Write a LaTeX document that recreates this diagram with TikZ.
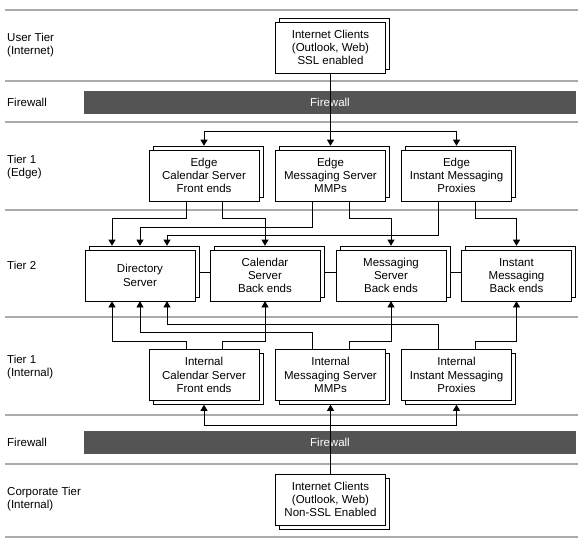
\documentclass[tikz,border=0pt]{standalone}
\usepackage{fontspec}
\setmainfont{Liberation Sans}
\usetikzlibrary{arrows.meta,shadows}
\begin{document}
\begin{tikzpicture}[x=1pt,y=-1pt, every node/.style={font=\fontsize{11.5}{13.3}\selectfont},
  srv/.style={draw,fill=white,line width=0.6pt,minimum width=110pt,minimum height=51pt,inner sep=1pt,align=center},
  upsrv/.style={srv,copy shadow={shadow xshift=4pt,shadow yshift=4pt}},
  dnsrv/.style={srv,copy shadow={shadow xshift=4pt,shadow yshift=-4pt}},
  wall/.style={fill=black!67,text=white,minimum width=492pt,minimum height=23pt,inner sep=0pt},
  tier/.style={anchor=west,align=left,inner sep=0pt},
  tiersep/.style={draw=black!33,line width=2.5pt},
  link/.style={line width=0.6pt},
  arr/.style={link,-{Triangle[width=7pt,length=6pt]}}]
\useasboundingbox (0,0) rectangle (584,544);
\foreach \y in {10,81,122,210,317,415,464,537} \draw[tiersep] (5,\y) -- (578,\y);
\node[tier] (tuser) at (7,45) {User Tier\\(Internet)};
\node[tier] (tfw1) at (7,102) {Firewall};
\node[tier] (tedge) at (7,167) {Tier 1\\(Edge)};
\node[tier] (ttwo) at (7,265) {Tier 2};
\node[tier] (tint) at (7,367) {Tier 1\\(Internal)};
\node[tier] (tfw2) at (7,442) {Firewall};
\node[tier] (tcorp) at (7,499) {Corporate Tier\\(Internal)};
\node[wall] (fw1) at (330,102) {Firewall};
\node[wall] (fw2) at (330,442) {Firewall};
\node[upsrv] (inet) at (330.5,47.5) {Internet Clients\\(Outlook, Web)\\SSL enabled};
\node[upsrv] (ecal) at (204,175.5) {Edge\\Calendar Server\\Front ends};
\node[upsrv] (emsg) at (330.5,175.5) {Edge\\Messaging Server\\MMPs};
\node[upsrv] (eim) at (456.5,175.5) {Edge\\Instant Messaging\\Proxies};
\node[upsrv] (dir) at (140,275.5) {Directory\\Server};
\node[upsrv] (cal) at (265,275.5) {Calendar\\Server\\Back ends};
\node[upsrv] (msg) at (391,275.5) {Messaging\\Server\\Back ends};
\node[upsrv] (im) at (516.5,275.5) {Instant\\Messaging\\Back ends};
\node[dnsrv] (ical) at (204,375) {Internal\\Calendar Server\\Front ends};
\node[dnsrv] (imsg) at (330.5,375) {Internal\\Messaging Server\\MMPs};
\node[dnsrv] (iim) at (456.5,375) {Internal\\Instant Messaging\\Proxies};
\node[dnsrv] (corp) at (330.5,499.5) {Internet Clients\\(Outlook, Web)\\Non-SSL Enabled};
\coordinate (tj) at (330.5,131);
\coordinate (bj) at (330.5,425);
\draw[link] (inet.south) -- (tj);
\draw[arr] (tj) -| ([yshift=4pt]ecal.north);
\draw[arr] (tj) -- ([yshift=4pt]emsg.north);
\draw[arr] (tj) -| ([yshift=4pt]eim.north);
\draw[link] ([xshift=4pt,yshift=3pt]dir.east) -- ([yshift=3pt]cal.west);
\draw[link] ([xshift=4pt,yshift=3pt]cal.east) -- ([yshift=3pt]msg.west);
\draw[link] ([xshift=4pt,yshift=3pt]msg.east) -- ([yshift=3pt]im.west);
\draw[arr] ([xshift=-18pt]ecal.south) -- ++(0,17) -| ([xshift=-28pt,yshift=4pt]dir.north);
\draw[arr] ([xshift=18pt]ecal.south) -- ++(0,17) -| ([yshift=4pt]cal.north);
\draw[arr] ([xshift=-18.5pt]emsg.south) -- ++(0,26) -| ([yshift=4pt]dir.north);
\draw[arr] ([xshift=18.5pt]emsg.south) -- ++(0,17) -| ([yshift=4pt]msg.north);
\draw[arr] ([xshift=-18.5pt]eim.south) -- ++(0,34) -| ([xshift=27pt,yshift=4pt]dir.north);
\draw[arr] ([xshift=18.5pt]eim.south) -- ++(0,17) -| ([yshift=4pt]im.north);
\draw[arr] ([xshift=-18pt]ical.north) -- ++(0,-8) -| ([xshift=-28pt]dir.south);
\draw[arr] ([xshift=18pt]ical.north) -- ++(0,-8) -| (cal.south);
\draw[arr] ([xshift=-18.5pt]imsg.north) -- ++(0,-16.5) -| (dir.south);
\draw[arr] ([xshift=18.5pt]imsg.north) -- ++(0,-8) -| (msg.south);
\draw[arr] ([xshift=-18.5pt]iim.north) -- ++(0,-24.5) -| ([xshift=27pt]dir.south);
\draw[arr] ([xshift=18.5pt]iim.north) -- ++(0,-8) -| (im.south);
\draw[arr] (corp.north) -- ([yshift=-4pt]imsg.south);
\draw[arr] (bj) -| ([yshift=-4pt]ical.south);
\draw[arr] (bj) -| ([yshift=-4pt]iim.south);
\end{tikzpicture}
\end{document}
